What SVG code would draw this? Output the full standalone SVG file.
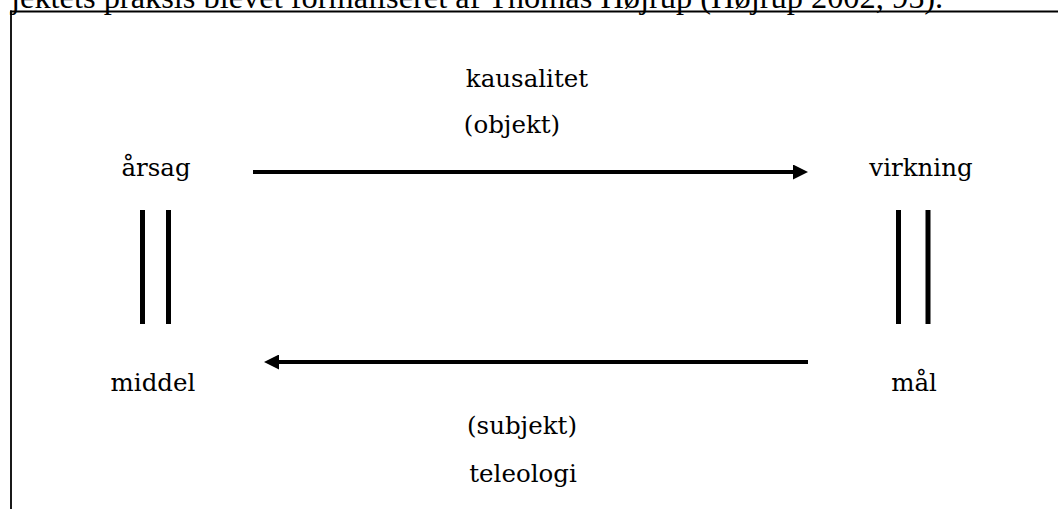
<svg xmlns="http://www.w3.org/2000/svg" width="1058" height="509" viewBox="0 0 1058 509">
  <style>
    .lbl { font-family: "DejaVu Serif", "Liberation Serif", serif; font-size: 24.5px; fill: #000; text-anchor: middle; }
    .top { font-family: "Liberation Serif", "Times New Roman", serif; font-size: 32.4px; fill: #000; }
    .arrow { stroke: #000; stroke-width: 4; fill: none; }
    .bar { fill: #000; }
    .frame { stroke: #000; fill: none; }
  </style>
  <defs>
    <marker id="head" markerUnits="userSpaceOnUse" markerWidth="15" markerHeight="15" viewBox="0 0 15 15" refX="0" refY="7.5" orient="auto">
      <path d="M0,0 L15,7.5 L0,15 z" fill="#000"/>
    </marker>
  </defs>
  <rect width="1058" height="509" fill="#fff"/>
  <g id="caption">
    <text class="top" x="11" y="8">jektets praksis blevet formaliseret af Thomas Højrup (Højrup 2002, 95).</text>
  </g>
  <g id="frame">
    <line class="frame" x1="10" y1="11.5" x2="1058" y2="11.5" stroke-width="2.2"/>
    <line class="frame" x1="11" y1="10.5" x2="11" y2="509" stroke-width="1.8"/>
  </g>
  <g id="node-aarsag"><text class="lbl" x="156" y="176">årsag</text></g>
  <g id="node-virkning"><text class="lbl" x="921" y="176">virkning</text></g>
  <g id="node-middel"><text class="lbl" x="153" y="391">middel</text></g>
  <g id="node-maal"><text class="lbl" x="914" y="391">mål</text></g>
  <g id="label-kausalitet">
    <text class="lbl" x="527" y="87">kausalitet</text>
    <text class="lbl" x="512" y="133">(objekt)</text>
  </g>
  <g id="label-teleologi">
    <text class="lbl" x="522" y="434">(subjekt)</text>
    <text class="lbl" x="523" y="482">teleologi</text>
  </g>
  <g id="connectors">
    <line class="arrow" x1="253" y1="172" x2="793" y2="172" marker-end="url(#head)"/>
    <line class="arrow" x1="808" y1="362" x2="279" y2="362" marker-end="url(#head)"/>
    <rect class="bar" x="140" y="210" width="5" height="114"/>
    <rect class="bar" x="166" y="210" width="5" height="114"/>
    <rect class="bar" x="896" y="210" width="5" height="114"/>
    <rect class="bar" x="925.5" y="210" width="5" height="114"/>
  </g>
</svg>
